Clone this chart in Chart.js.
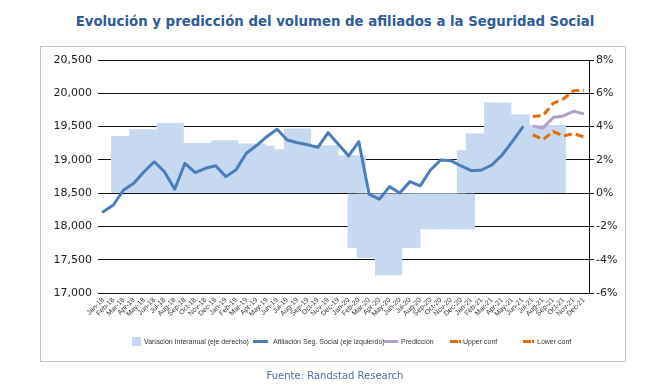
<!DOCTYPE html>
<html><head><meta charset="utf-8">
<script src="https://cdn.jsdelivr.net/npm/chart.js@4.4.0/dist/chart.umd.min.js"></script>
<style>
html,body{margin:0;padding:0;background:#fff;}
#wrap{position:relative;width:670px;height:392px;overflow:hidden;background:#fff;}
#frame{position:absolute;left:40px;top:46px;width:586px;height:316px;border:1px solid #c4c4c4;box-sizing:border-box;}
#title{position:absolute;left:0;top:12px;width:670px;text-align:center;white-space:nowrap;}
#title span{font-family:"DejaVu Sans Condensed","DejaVu Sans",sans-serif;font-weight:bold;font-size:15px;color:#2f5b9b;}
#c{position:absolute;left:0;top:0;}
.lg{position:absolute;font-family:"Liberation Sans Narrow","Liberation Sans",sans-serif;font-size:7px;color:#333;white-space:nowrap;line-height:9px;top:337px;}
.mk{position:absolute;}
#source{position:absolute;left:0;width:670px;top:370px;text-align:center;font-family:"DejaVu Sans",sans-serif;font-size:10px;color:#4a6ea8;}
</style></head>
<body>
<div id="wrap">
  <div id="frame"></div>
  <div id="title"><span id="tt">Evolución y predicción del volumen de afiliados a la Seguridad Social</span></div>
  <canvas id="c" width="670" height="392"></canvas>
  <div class="mk" style="left:132px;top:337px;width:9px;height:9px;background:#c6d9f1;"></div>
  <div class="lg" id="l1" style="left:144px;">Variación Interanual (eje derecho)</div>
  <div class="mk" style="left:253px;top:340px;width:15px;height:3px;background:#4a7ebb;"></div>
  <div class="lg" id="l2" style="left:273px;">Afiliación Seg. Social (eje izquierdo)</div>
  <div class="mk" style="left:384px;top:340px;width:14px;height:3px;background:#b3a2c7;"></div>
  <div class="lg" id="l3" style="left:401px;">Predicción</div>
  <div class="mk" style="left:450px;top:340px;width:8px;height:3px;background:#e46c0a;"></div>
  <div class="mk" style="left:459px;top:340px;width:2px;height:3px;background:#e46c0a;"></div>
  <div class="lg" id="l4" style="left:463px;">Upper conf</div>
  <div class="mk" style="left:523px;top:340px;width:8px;height:3px;background:#e46c0a;"></div>
  <div class="mk" style="left:532px;top:340px;width:2px;height:3px;background:#e46c0a;"></div>
  <div class="lg" id="l5" style="left:537px;">Lower conf</div>
  <div id="source">Fuente: Randstad Research</div>
</div>
<script>
// ---- data ----
const meses = ['Jan-18','Feb-18','Mar-18','Apr-18','May-18','Jun-18','Jul-18','Aug-18','Sep-18','Oct-18','Nov-18','Dec-18',
  'Jan-19','Feb-19','Mar-19','Apr-19','May-19','Jun-19','Jul-19','Aug-19','Sep-19','Oct-19','Nov-19','Dec-19',
  'Jan-20','Feb-20','Mar-20','Apr-20','May-20','Jun-20','Jul-20','Aug-20','Sep-20','Oct-20','Nov-20','Dec-20',
  'Jan-21','Feb-21','Mar-21','Apr-21','May-21','Jun-21','Jul-21','Aug-21','Sep-21','Oct-21','Nov-21','Dec-21'];

// Variación interanual (%), eje derecho
const variacionInteranual = [3.44,3.40,3.84,3.70,3.60,4.22,2.95,2.90,3.02,2.95,3.00,3.18,
  2.95,2.90,2.98,2.85,2.60,2.63,2.55,3.89,2.80,2.75,2.88,2.20,
  2.25,2.28,-3.30,-3.90,-3.80,-4.93,-3.20,-3.30,-2.10,-2.15,-2.17,-2.00,
  -2.10,-2.17,2.58,3.58,3.50,5.45,4.70,4.73,4.05,4.10,4.08,4.10];

// Afiliación Seg. Social (miles), eje izquierdo
const afiliacion = [18222,18322,18547,18648,18822,18972,18822,18558,18948,18807,18873,18912,
  18748,18853,19100,19215,19348,19459,19298,19258,19228,19188,19408,19236,
  19058,19273,18485,18408,18598,18503,18673,18610,18848,18998,18988,18908,
  18838,18848,18923,19073,19273,19489,null,null,null,null,null,null];

const prediccion = [null,null,null,null,null,null,null,null,null,null,null,null,
  null,null,null,null,null,null,null,null,null,null,null,null,
  null,null,null,null,null,null,null,null,null,null,null,null,
  null,null,null,null,null,null,19510,19480,19635,19660,19730,19690];

const upperConf = [null,null,null,null,null,null,null,null,null,null,null,null,
  null,null,null,null,null,null,null,null,null,null,null,null,
  null,null,null,null,null,null,null,null,null,null,null,null,
  null,null,null,null,null,null,19650,19665,19850,19915,20040,20045];

const lowerConf = [null,null,null,null,null,null,null,null,null,null,null,null,
  null,null,null,null,null,null,null,null,null,null,null,null,
  null,null,null,null,null,null,null,null,null,null,null,null,
  null,null,null,null,null,null,19375,19305,19425,19360,19395,19345];

const leftTicks = {min:17000, max:20500, step:500};
const rightTicks = {min:-6, max:8, step:2};

(function(){
  const s = document.getElementById('tt');
  const target = 519;
  const w = s.getBoundingClientRect().width;
  s.style.fontSize = (15*target/w).toFixed(2)+'px';
})();

const barPoints = variacionInteranual.map((v,i)=>({x:i, y:v}));

new Chart(document.getElementById('c'), {
  type: 'line',
  data: {
    labels: meses,
    datasets: [
      {type:'bar', label:'Variación Interanual (eje derecho)', data: barPoints, xAxisID:'xb', yAxisID:'yR',
       backgroundColor:'#c6d9f1', borderWidth:0, grouped:false, categoryPercentage:1, barPercentage:3, order:10},
      {label:'Afiliación Seg. Social (eje izquierdo)', data: afiliacion, xAxisID:'x', yAxisID:'y',
       borderColor:'#4a7ebb', borderWidth:3, pointRadius:0, tension:0, borderJoinStyle:'round', borderCapStyle:'round', order:1},
      {label:'Predicción', data: prediccion, xAxisID:'x', yAxisID:'y',
       borderColor:'#b3a2c7', borderWidth:3, pointRadius:0, tension:0, borderJoinStyle:'round', order:1},
      {label:'Upper conf', data: upperConf, xAxisID:'x', yAxisID:'y',
       borderColor:'#e46c0a', borderWidth:3, borderDash:[8,4], pointRadius:0, tension:0, order:1},
      {label:'Lower conf', data: lowerConf, xAxisID:'x', yAxisID:'y',
       borderColor:'#e46c0a', borderWidth:3, borderDash:[8,4], pointRadius:0, tension:0, order:1}
    ]
  },
  options: {
    responsive:false, animation:false, events:[],
    layout:{padding:{left:0,right:0,top:60,bottom:39}},
    plugins:{legend:{display:false}, tooltip:{enabled:false}, title:{display:false}},
    scales:{
      x:{type:'category', offset:true, position:'bottom',
         grid:{display:false, drawTicks:false}, border:{display:false},
         ticks:{autoSkip:false, maxRotation:45, minRotation:45, padding:3, color:'#333',
                font:{family:'"Liberation Sans Narrow","Liberation Sans",sans-serif', size:7}},
         afterFit: s => { s.height = 60; }},
      xb:{type:'linear', display:false, offset:false, min:-2.93, max:51.03,
          ticks:{stepSize:10, includeBounds:false}},
      y:{type:'linear', position:'left', min:leftTicks.min, max:leftTicks.max,
         ticks:{stepSize:leftTicks.step, padding:6, color:'#222',
                font:{family:'"DejaVu Sans",sans-serif', size:11},
                callback: v => v.toLocaleString('en-US')},
         grid:{color:'#111', lineWidth:1, drawTicks:false}, border:{display:false},
         afterFit: s => { s.width = 98; }},
      yR:{type:'linear', position:'right', min:rightTicks.min, max:rightTicks.max,
          ticks:{stepSize:rightTicks.step, padding:2, color:'#222',
                 font:{family:'"DejaVu Sans",sans-serif', size:11},
                 callback: v => v + '%'},
          grid:{drawOnChartArea:false, drawTicks:true, tickLength:5, color:'#111'},
          border:{display:true, color:'#111', width:1},
          afterFit: s => { s.width = 81; }}
    }
  }
});
</script>
</body></html>
